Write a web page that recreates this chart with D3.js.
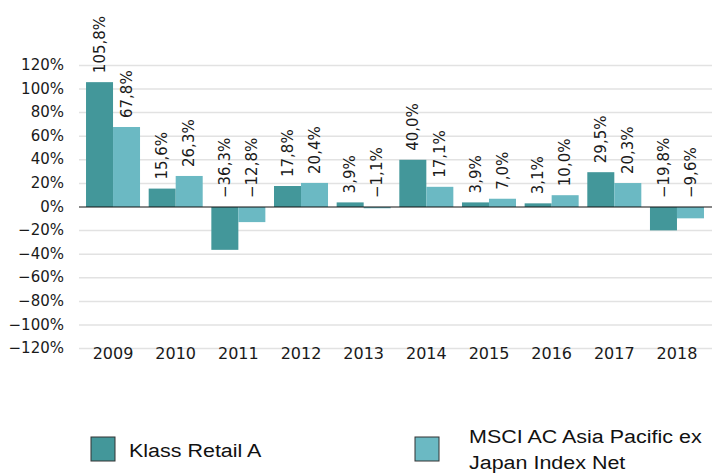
<!DOCTYPE html>
<html>
<head>
<meta charset="utf-8">
<script src="https://cdn.jsdelivr.net/npm/d3@7"></script>
<style>
    body { margin: 0; background: #fff; }
    svg { display: block; }
</style>
</head>
<body>
<div id="chart"></div>
<script>
// Annual returns, in percent
const years = ["2009", "2010", "2011", "2012", "2013", "2014", "2015", "2016", "2017", "2018"];
const fundValues = [105.8, 15.6, -36.3, 17.8, 3.9, 40.0, 3.9, 3.1, 29.5, -19.8];
const indexValues = [67.8, 26.3, -12.8, 20.4, -1.1, 17.1, 7.0, 10.0, 20.3, -9.6];
const seriesNames = ["Klass Retail A", "MSCI AC Asia Pacific ex Japan Index Net"];
const yTicks = [-120, -100, -80, -60, -40, -20, 0, 20, 40, 60, 80, 100, 120];

const colors = ["#43979a", "#6bb9c3"];
const width = 712, height = 473;

const svg = d3.select("#chart")
    .append("svg")
    .attr("width", width)
    .attr("height", height);

// Scales
const x = d3.scaleBand()
    .domain(years)
    .range([81.7, 708.3])
    .paddingInner(0.138)
    .paddingOuter(0.069);

const xInner = d3.scaleBand()
    .domain([0, 1])
    .range([0, x.bandwidth()]);

const y = d3.scaleLinear()
    .domain([-120, 120])
    .range([348.6, 65.4]);

const fmt = v => (v < 0 ? "\u2212" : "") + Math.abs(v).toFixed(1).replace(".", ",") + "%";

// Grid lines
svg.append("g")
    .selectAll("line")
    .data(yTicks.filter(d => d !== 0))
    .join("line")
    .attr("x1", 79)
    .attr("x2", width)
    .attr("y1", d => y(d))
    .attr("y2", d => y(d))
    .attr("stroke", "#e2e2e2")
    .attr("stroke-width", 1.5);

// Y axis labels
svg.append("g")
    .selectAll("text")
    .data(yTicks)
    .join("text")
    .attr("x", 64)
    .attr("y", d => y(d))
    .attr("dy", "0.3em")
    .attr("text-anchor", "end")
    .style("font-family", "DejaVu Sans")
    .style("font-size", "15px")
    .attr("fill", "#1a1a1a")
    .text(d => (d < 0 ? "\u2212" : "") + Math.abs(d) + "%");

// Bars
const data = years.map((yr, i) => ({ year: yr, values: [fundValues[i], indexValues[i]] }));

const groups = svg.append("g")
    .selectAll("g")
    .data(data)
    .join("g")
    .attr("transform", d => `translate(${x(d.year)},0)`);

groups.selectAll("rect")
    .data(d => d.values.map((v, k) => ({ v, k })))
    .join("rect")
    .attr("x", d => xInner(d.k))
    .attr("width", xInner.bandwidth())
    .attr("y", d => y(Math.max(d.v, 0)))
    .attr("height", d => Math.abs(y(d.v) - y(0)))
    .attr("fill", d => colors[d.k]);

// Value labels (rotated)
groups.selectAll("text")
    .data(d => d.values.map((v, k) => ({ v, k })))
    .join("text")
    .attr("transform", d => `translate(${xInner(d.k) + xInner.bandwidth() / 2},${y(Math.max(d.v, 0)) - 9}) rotate(-90)`)
    .attr("dy", "0.35em")
    .attr("text-anchor", "start")
    .style("font-family", "DejaVu Sans")
    .style("font-size", "15px")
    .attr("fill", "#1a1a1a")
    .text(d => fmt(d.v));

// Zero line
svg.append("line")
    .attr("x1", 79)
    .attr("x2", width)
    .attr("y1", y(0))
    .attr("y2", y(0))
    .attr("stroke", "#111")
    .attr("stroke-width", 1.2);

// X axis labels
svg.append("g")
    .selectAll("text")
    .data(years)
    .join("text")
    .attr("x", d => x(d) + x.bandwidth() / 2)
    .attr("y", 359)
    .attr("text-anchor", "middle")
    .style("font-family", "DejaVu Sans")
    .style("font-size", "16px")
    .attr("fill", "#1a1a1a")
    .text(d => d);

// Legend
const legend = [
    { x: 91, tx: 129, lines: [seriesNames[0]], ty: [457] },
    { x: 415, tx: 469, lines: ["MSCI AC Asia Pacific ex", "Japan Index Net"], ty: [443, 469] }
];

legend.forEach((item, i) => {
    svg.append("rect")
        .attr("x", item.x)
        .attr("y", 437)
        .attr("width", 24)
        .attr("height", 24)
        .attr("fill", colors[i])
        .attr("stroke", "#333")
        .attr("stroke-width", 1);
    item.lines.forEach((line, j) => {
        svg.append("text")
            .attr("transform", `translate(${item.tx},${item.ty[j]}) scale(1.22,1)`)
            .style("font-family", "Liberation Sans, Arial, sans-serif")
            .style("font-size", "17.6px")
            .attr("fill", "#111")
            .text(line);
    });
});
</script>
</body>
</html>
